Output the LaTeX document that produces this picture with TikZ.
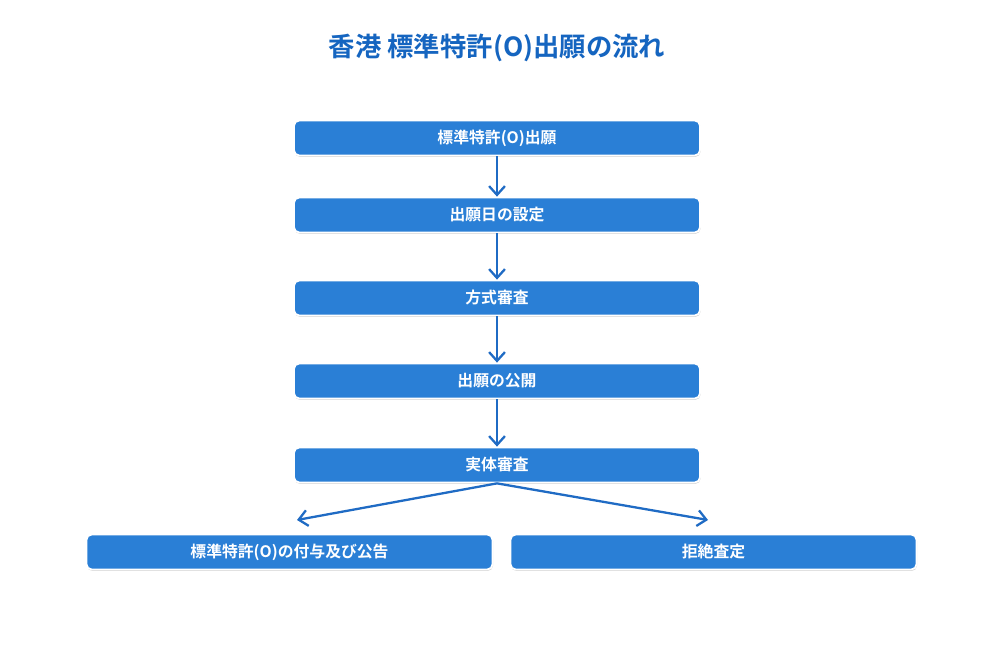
\documentclass[tikz,border=0pt]{standalone}
\usepackage{fontspec}
\newfontfamily\jpfont{Noto Sans CJK JP}[BoldFont={* Bold}]
\usetikzlibrary{arrows.meta}
\usetikzlibrary{positioning}
\usetikzlibrary{shadows}
\definecolor{stepblue}{HTML}{2A7FD6}
\definecolor{titleblue}{HTML}{1565C0}
\definecolor{linkblue}{HTML}{1F6BC4}
\tikzset{
    flow box/.style={
        draw=white,
        line width=1pt,
        fill=stepblue,
        rounded corners=3pt,
        minimum width=8.12cm,
        minimum height=0.7cm,
        inner sep=0,
        text=white,
        font=\jpfont\bfseries\fontsize{9}{11}\selectfont,
        drop shadow={shadow xshift=0.3pt, shadow yshift=-0.8pt, opacity=0.35, fill=gray},
    },
    flow arrow/.style={
        draw=linkblue,
        line width=1.3pt,
        -{Straight Barb[length=5pt,width=9pt]},
    },
}

\begin{document}
\begin{tikzpicture}
    \useasboundingbox[fill=white] (0, 0) rectangle (20, 13.32);

    \node[font=\jpfont\bfseries\fontsize{15}{18}\selectfont, text=titleblue] (title) at (9.94, 12.36) {香港 標準特許(O)出願の流れ};

    \node[flow box] (apply) at (9.94, 10.56) {標準特許(O)出願};
    \node[flow box] (date) at (9.94, 9.02) {出願日の設定};
    \node[flow box] (formal) at (9.94, 7.36) {方式審査};
    \node[flow box] (publish) at (9.94, 5.70) {出願の公開};
    \node[flow box] (exam) at (9.94, 4.02) {実体審査};
    \node[flow box] (grant) at (5.79, 2.28) {標準特許(O)の付与及び公告};
    \node[flow box] (reject) at (14.27, 2.28) {拒絶査定};

    \coordinate (grant end) at (5.94, 2.92);
    \coordinate (reject end) at (14.16, 2.92);

    \draw[flow arrow] (apply) -- (date);
    \draw[flow arrow] (date) -- (formal);
    \draw[flow arrow] (formal) -- (publish);
    \draw[flow arrow] (publish) -- (exam);
    \draw[flow arrow] (exam.south) -- (grant end);
    \draw[flow arrow] (exam.south) -- (reject end);
\end{tikzpicture}
\end{document}
